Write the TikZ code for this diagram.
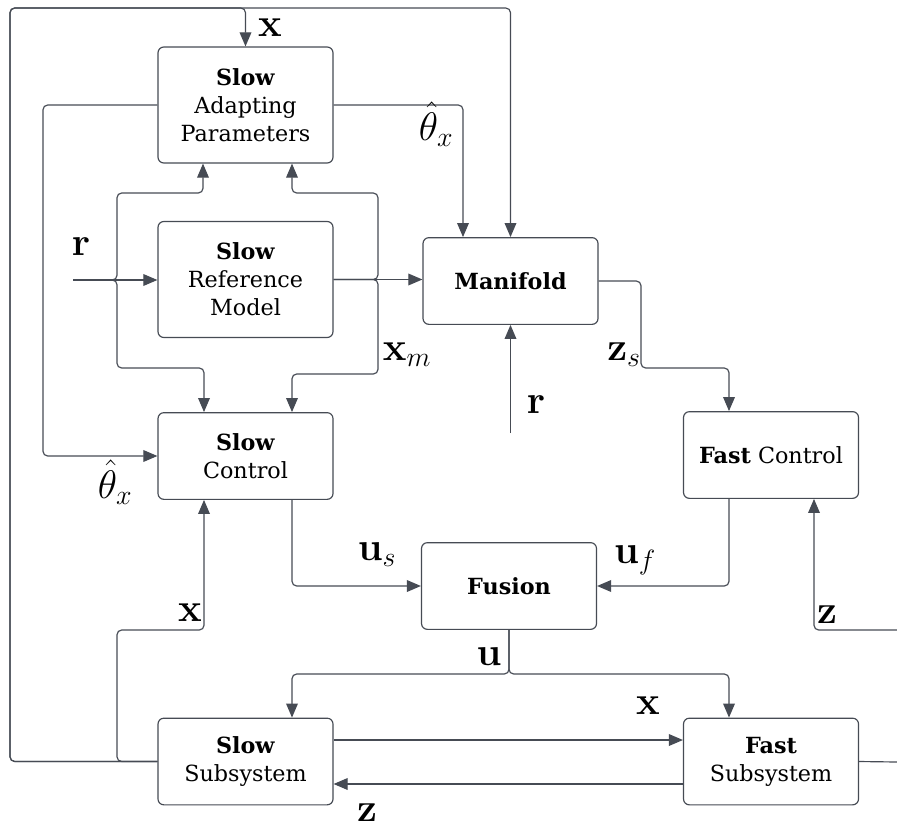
\RequirePackage{fix-cm}
\documentclass[tikz,border=0pt]{standalone}
\usepackage[no-math]{fontspec}
\setmainfont{DejaVu Serif}
\usepackage{amsmath,amssymb}
\usepackage{xcolor}
\usepackage{tikz}
\usetikzlibrary{arrows.meta,positioning,calc}

\definecolor{wiregray}{HTML}{464B54}
\tikzset{
	block/.style={draw=wiregray,line width=1pt,rounded corners=5pt,fill=white,align=center,
		minimum width=5.25cm,minimum height=2.6cm,inner sep=2pt,font=\fontsize{19}{24}\selectfont},
	tallblock/.style={block,minimum height=3.48cm},
	wire/.style={draw=wiregray,line width=1pt,rounded corners=4pt},
	arr/.style={wire,-{Triangle[length=12pt,width=10pt]}},
	lbl/.style={inner sep=0pt,font=\fontsize{34}{36}\selectfont},
}

\begin{document}
\begin{tikzpicture}[x=0.03cm,y=-0.03cm]
	\useasboundingbox (0,0) rectangle (897,828);

	% blocks
	\node[tallblock] (adapt) at (245.5,105) {\textbf{Slow}\\Adapting\\Parameters};
	\node[tallblock] (ref) at (245.5,279.5) {\textbf{Slow}\\Reference\\Model};
	\node[block] (mani) at (510.5,281) {\textbf{Manifold}};
	\node[block] (sctrl) at (245.5,456) {\textbf{Slow}\\Control};
	\node[block] (fctrl) at (771,455) {\textbf{Fast} Control};
	\node[block] (fusion) at (509,586) {\textbf{Fusion}};
	\node[block] (ssub) at (245.5,761.5) {\textbf{Slow}\\Subsystem};
	\node[block] (fsub) at (771,761.5) {\textbf{Fast}\\Subsystem};

	% free ends
	\coordinate (rin) at (73,280);
	\coordinate (rman) at (510.5,433);
	\coordinate (zin) at (897,630);
	\coordinate (zout) at (897,762);

	% outer state loop
	\draw[arr] (ssub.west) -| (10,8) -| (mani.north);
	\draw[arr] (ssub.west) -| (10,8) -| (adapt.north);
	\draw[arr] (ssub.west) -| (117,630) -| (204,0 |- sctrl.south);

	% adapted parameters
	\draw[arr] (adapt.west) -| (43,456) -- (sctrl.west);
	\draw[arr] (adapt.east) -| (463,0 |- mani.north);

	% reference input
	\draw[arr] (rin) -- (rin -| ref.west);
	\draw[arr] (rin) -| (117,193) -| (203,0 |- adapt.south);
	\draw[arr] (rin) -| (117,368) -| (204,0 |- sctrl.north);

	% reference model output
	\draw[arr] (ref.east) -- (ref.east -| mani.west);
	\draw[arr] (ref.east) -| (378,193) -| (292,0 |- adapt.south);
	\draw[arr] (ref.east) -| (378,374) -| (292,0 |- sctrl.north);

	% manifold
	\draw[arr] (mani.east) -| (641,368) -| (729,0 |- fctrl.north);
	\draw[arr] (rman) -- (mani.south);

	% controls into fusion
	\draw[arr] (292,0 |- sctrl.south) |- (fusion.west);
	\draw[arr] (729,0 |- fctrl.south) |- (fusion.east);
	\draw[arr] (zin) -| (814,0 |- fctrl.south);

	% fusion to subsystems
	\draw[arr] (fusion.south) -- (509,674) -| (292,0 |- ssub.north);
	\draw[arr] (fusion.south) -- (509,674) -| (729,0 |- fsub.north);

	% coupling
	\draw[arr] (ssub.east |- 0,740) -- (fsub.west |- 0,740);
	\draw[arr] (fsub.west |- 0,784) -- (ssub.east |- 0,784);
	\draw[wire] (fsub.east) -- (zout);

	% labels
	\node[lbl] (lxtop) at (270,28) {$\mathbf{x}$};
	\node[lbl] (lthl) at (115,482) {$\hat{\theta}_x$};
	\node[lbl] (lthr) at (436,124) {$\hat{\theta}_x$};
	\node[lbl] (lr) at (81,247) {$\mathbf{r}$};
	\node[lbl] (lxm) at (407,355) {$\mathbf{x}_m$};
	\node[lbl] (lzs) at (624,355) {$\mathbf{z}_s$};
	\node[lbl] (lrman) at (536,405) {$\mathbf{r}$};
	\node[lbl] (lus) at (377,555) {$\mathbf{u}_s$};
	\node[lbl] (luf) at (635,560) {$\mathbf{u}_f$};
	\node[lbl] (lxs) at (190,613) {$\mathbf{x}$};
	\node[lbl] (lzf) at (827,615) {$\mathbf{z}$};
	\node[lbl] (lu) at (489,657) {$\mathbf{u}$};
	\node[lbl] (lxc) at (648,706) {$\mathbf{x}$};
	\node[lbl] (lzc) at (367,813) {$\mathbf{z}$};
\end{tikzpicture}
\end{document}
